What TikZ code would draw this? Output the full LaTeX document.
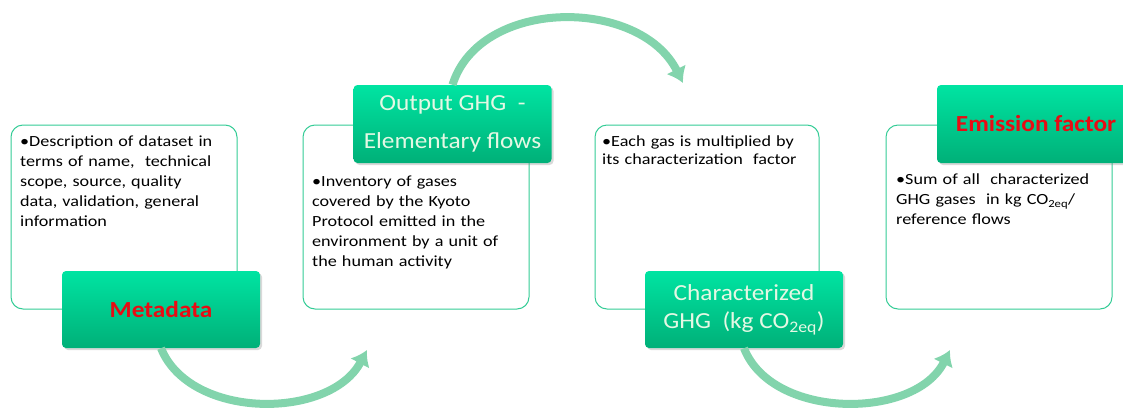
\documentclass[tikz,border=0pt]{standalone}
\usepackage{fontspec}
\setmainfont{Carlito}
\newfontfamily\bodyfont[FakeStretch=1.17]{Carlito}
\newfontfamily\titlefont[FakeStretch=1.1]{Carlito}
\usepackage{xcolor}
\usetikzlibrary{arrows.meta}
\usetikzlibrary{shadows}
\definecolor{boxtop}{RGB}{0,228,162}
\definecolor{boxbottom}{RGB}{0,176,120}
\definecolor{boxline}{RGB}{52,204,150}
\definecolor{flowgreen}{RGB}{130,212,172}
\definecolor{titlered}{RGB}{232,12,20}
\definecolor{titlepale}{RGB}{228,248,228}

\tikzset{
  infobox/.style={draw=boxline, line width=1pt, rounded corners=12pt, fill=white,
    minimum width=226pt, minimum height=184pt, inner sep=0pt},
  titlebox/.style={rounded corners=4pt, top color=boxtop, bottom color=boxbottom,
    minimum width=198pt, minimum height=77pt, inner sep=0pt, align=center,
    drop shadow={opacity=0.3, shadow xshift=2pt, shadow yshift=-2pt}},
  bodytext/.style={anchor=north west, inner sep=0pt, text width=222pt, align=left,
    font=\bodyfont\fontsize{15.5}{20}\selectfont},
  flow/.style={line width=8pt, color=flowgreen, -{Latex[length=15pt,width=22pt]}},
}

\begin{document}
\begin{tikzpicture}[x=1pt,y=-1pt]
\path[use as bounding box, clip] (0,0) rectangle (1123,410);

% text boxes
\node[infobox] (meta box) at (124,217) {};
\node[infobox] (output box) at (416,217) {};
\node[infobox, minimum width=224pt] (char box) at (707,217) {};
\node[infobox] (factor box) at (999,217) {};

\node[bodytext] (meta text) at (20,136) {\hangindent=5pt\hangafter=1
  \textbullet{}Description of dataset in\\terms of name,~ technical\\scope, source, quality\\data, validation, general\\information};
\node[bodytext] (output text) at (312,176) {\hangindent=4pt\hangafter=1
  \textbullet{}Inventory of gases\\covered by the Kyoto\\Protocol emitted in the\\environment by a unit of\\the human activity};
\node[bodytext, font=\bodyfont\fontsize{15.5}{18}\selectfont] (char text) at (602,136) {\hangindent=4pt\hangafter=1
  \textbullet{}Each gas is multiplied by\\its characterization~ factor};
\node[bodytext] (factor text) at (896,174) {\hangindent=4pt\hangafter=1
  \textbullet{}Sum of all~ characterized\\GHG gases~ in kg CO\textsubscript{2eq}/\\reference flows};

% title boxes
\node[titlebox, font=\titlefont\bfseries\fontsize{23}{28}\selectfont, text=titlered] (meta title) at (161,309.5) {Metadata};
\node[titlebox, minimum height=78pt, font=\titlefont\fontsize{23}{38}\selectfont, text=titlepale] (output title) at (452.5,124) {Output GHG~ -\\Elementary flows};
\node[titlebox, font=\titlefont\fontsize{23}{28}\selectfont, text=titlepale] (char title) at (744,309.5) {Characterized\\GHG~ (kg CO\textsubscript{2eq})};
\node[titlebox, minimum height=78pt, font=\titlefont\bfseries\fontsize{23}{28}\selectfont, text=titlered] (factor title) at (1036,124) {Emission factor};

% flow arrows
\coordinate (meta end) at (367,350);
\coordinate (output end) at (683,83);
\coordinate (char end) at (950,350);
\draw[flow] (meta title.south) .. controls (190,420) and (330,420) .. (meta end);
\draw[flow] (output title.north) .. controls (480,-3) and (640,-3) .. (output end);
\draw[flow] (char title.south) .. controls (772,420) and (915,420) .. (char end);
\end{tikzpicture}
\end{document}
